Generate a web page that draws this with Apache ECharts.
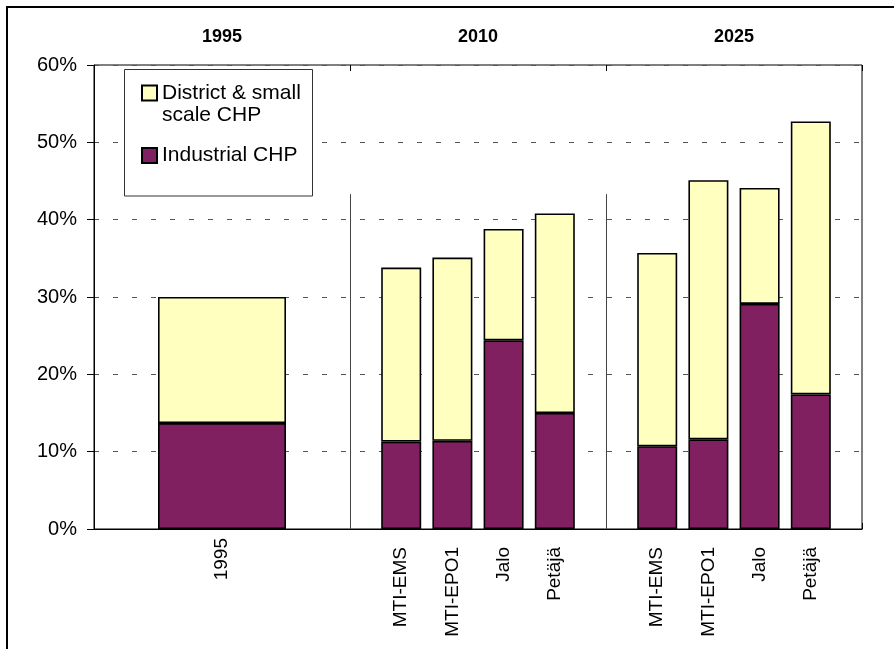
<!DOCTYPE html>
<html>
<head>
<meta charset="utf-8">
<script src="https://cdn.jsdelivr.net/npm/echarts@6/dist/echarts.min.js"></script>
<style>
  html, body { margin: 0; padding: 0; background: #fff; }
  #chart { width: 894px; height: 649px; }
</style>
</head>
<body>
<div id="chart"></div>
<script>
// Share of CHP production, by period and scenario (percent)
const periods = ['1995', '2010', '2025'];
const baseYear = ['1995'];
const scenarios = ['MTI-EMS', 'MTI-EPO1', 'Jalo', 'Petäjä'];

const industrial1995 = [13.7];
const district1995 = [16.3];

const industrial2010 = [11.3, 11.4, 24.4, 15.0];
const district2010 = [22.5, 23.7, 14.4, 25.8];

const industrial2025 = [10.7, 11.6, 29.1, 17.4];
const district2025 = [25.0, 33.5, 15.0, 35.3];

const yMin = 0, yMax = 60, yStep = 10;

const NAME_IND = 'Industrial CHP';
const NAME_DIST = 'District & small scale CHP';

// Period dividers run up from the axis to this level (percent)
const dividerTop = 43.3;

const FONT = '"Liberation Sans", Arial, sans-serif';
const PURPLE = '#802060';
const YELLOW = '#FFFFC0';

const plotTop = 65, plotHeight = 464;

// Legend swatches: a 15px square inside a 15x44 box, so the square sits
// beside the first text line of a two-line label (or centred on one line).
const swatchTopLine = 'path://M0,0M0,3.5L15,3.5L15,18.5L0,18.5ZM15,44';
const swatchCentred = 'path://M0,0M0,14.5L15,14.5L15,29.5L0,29.5ZM15,44';

function hiddenY(gridIndex) {
  return { type: 'value', gridIndex, min: yMin, max: yMax, interval: yStep, show: false };
}

function labelAxis(gridIndex, data, margin) {
  return {
    type: 'category', gridIndex, data, position: 'bottom',
    axisLine: { show: false }, axisTick: { show: false }, splitLine: { show: false },
    axisLabel: { rotate: 90, margin, fontFamily: FONT, fontSize: 19, color: '#000', interval: 0 }
  };
}

function barPair(idx, ind, dist, width) {
  const common = {
    type: 'bar', xAxisIndex: idx + 3, yAxisIndex: idx + 1, stack: 'g' + idx,
    barWidth: width, silent: true
  };
  return [
    Object.assign({}, common, {
      name: NAME_IND, data: ind,
      itemStyle: { color: PURPLE, borderColor: '#000', borderWidth: 1.6 }
    }),
    Object.assign({}, common, {
      name: NAME_DIST, data: dist,
      itemStyle: { color: YELLOW, borderColor: '#000', borderWidth: 1.6 }
    })
  ];
}

const chart = echarts.init(document.getElementById('chart'), null, { renderer: 'canvas' });

const option = {
  animation: false,
  backgroundColor: '#fff',
  textStyle: { fontFamily: FONT },
  grid: [
    // frame, y axis and period headers
    { left: 94, top: plotTop, width: 768, height: plotHeight, show: true, borderColor: '#000', borderWidth: 1, backgroundColor: 'transparent' },
    // bar areas for each period
    { left: 94, top: plotTop, width: 256, height: plotHeight },
    { left: 375.6, top: plotTop, width: 204.8, height: plotHeight },
    { left: 631.6, top: plotTop, width: 204.8, height: plotHeight }
  ],
  xAxis: [
    {
      type: 'category', gridIndex: 0, data: periods, position: 'top',
      axisLine: { show: true, lineStyle: { color: '#000', width: 1 } },
      axisTick: { show: true, length: 6, interval: 0, lineStyle: { color: '#000' } },
      axisLabel: { margin: 19, fontFamily: FONT, fontSize: 18, fontWeight: 'bold', color: '#000' },
      splitLine: { show: false }
    },
    {
      type: 'category', gridIndex: 0, data: periods, position: 'top',
      axisLine: { show: false },
      axisTick: { show: true, inside: true, length: 6, interval: 0, lineStyle: { color: '#000' } },
      axisLabel: { show: false },
      splitLine: { show: false }
    },
    { type: 'value', gridIndex: 0, min: 0, max: periods.length, show: false },
    labelAxis(1, baseYear, 9),
    labelAxis(2, scenarios, 18),
    labelAxis(3, scenarios, 18)
  ],
  yAxis: [
    {
      type: 'value', gridIndex: 0, min: yMin, max: yMax, interval: yStep,
      axisLine: { show: true, lineStyle: { color: '#000', width: 1 } },
      axisTick: { show: true, length: 7, lineStyle: { color: '#000' } },
      axisLabel: { margin: 17, fontFamily: FONT, fontSize: 20, color: '#000', formatter: v => v + '%' },
      splitLine: { show: true, lineStyle: { color: '#555', width: 1, type: [5, 14] } }
    },
    hiddenY(1), hiddenY(2), hiddenY(3)
  ],
  legend: {
    orient: 'vertical', left: 141, top: 81, padding: 0, itemGap: 5.5,
    itemWidth: 15, itemHeight: 44, z: 10, selectedMode: false,
    textStyle: { fontFamily: FONT, fontSize: 21, color: '#000', lineHeight: 22 },
    formatter: name => name === NAME_DIST ? 'District & small\nscale CHP' : name,
    data: [
      { name: NAME_DIST, icon: swatchTopLine },
      { name: NAME_IND, icon: swatchCentred }
    ]
  },
  graphic: [
    {
      type: 'rect', z: 3, silent: true,
      shape: { x: 7, y: 7, width: 1000, height: 1000 },
      style: { fill: 'none', stroke: '#000', lineWidth: 2 }
    },
    {
      type: 'rect', z: 3, silent: true,
      shape: { x: 124.5, y: 69.5, width: 188, height: 126.5 },
      style: { fill: '#fff', stroke: '#333', lineWidth: 1 }
    }
  ],
  series: [
    {
      type: 'line', xAxisIndex: 2, yAxisIndex: 0, data: [], silent: true,
      markLine: {
        silent: true, symbol: 'none', label: { show: false },
        lineStyle: { color: '#444', width: 1, type: 'solid' },
        data: [
          [{ coord: [1, yMin] }, { coord: [1, dividerTop] }],
          [{ coord: [2, yMin] }, { coord: [2, dividerTop] }]
        ]
      }
    },
    ...barPair(0, industrial1995, district1995, 128),
    ...barPair(1, industrial2010, district2010, 40),
    ...barPair(2, industrial2025, district2025, 40)
  ]
};

chart.setOption(option);
</script>
</body>
</html>
